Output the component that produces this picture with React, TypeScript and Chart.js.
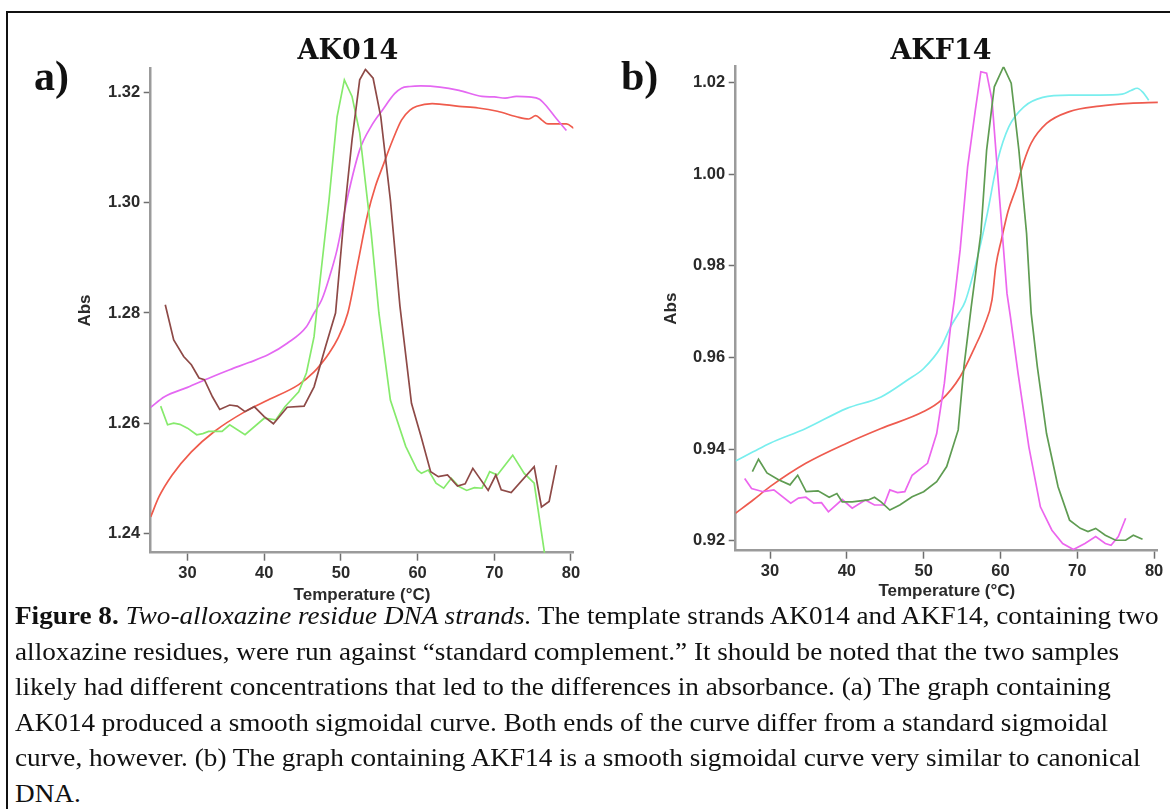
import React, { useEffect, useRef } from "react";
import { Chart, registerables } from "chart.js";

Chart.register(...registerables);

// ---------- tick labels ----------
const tempTicks = [30, 40, 50, 60, 70, 80];
const absTicksA = [1.24, 1.26, 1.28, 1.3, 1.32];
const absTicksB = [0.92, 0.94, 0.96, 0.98, 1.0, 1.02];

// ---------- panel a (AK014) ----------
const aMagentaT = [25.2, 27.0, 30.0, 33.0, 35.5, 38.0, 40.5, 43.0, 45.5, 46.5, 47.5, 48.5, 49.5, 50.9, 52.45, 54.0, 55.45, 57.0, 57.9, 59.0, 60.4, 62.9, 65.4, 68.4, 70.0, 71.4, 72.9, 74.5, 75.9, 77.0, 77.9, 79.4];
const aMagentaAbs = [1.2629, 1.2648, 1.2665, 1.2683, 1.2697, 1.271, 1.2724, 1.2745, 1.2775, 1.28, 1.2824, 1.2865, 1.2915, 1.3012, 1.3096, 1.314, 1.3169, 1.3198, 1.3208, 1.3211, 1.3212, 1.321, 1.3204, 1.3193, 1.3192, 1.319, 1.3193, 1.3192, 1.3188, 1.3172, 1.3156, 1.3131];

const aRedT = [25.2, 26.3, 28.0, 30.5, 33.5, 37.5, 40.5, 44.5, 46.5, 47.5, 48.5, 49.5, 50.9, 52.2, 53.5, 54.5, 55.45, 56.7, 57.9, 59.0, 59.9, 61.9, 65.4, 67.9, 70.4, 72.9, 74.5, 75.4, 76.2, 77.0, 79.4, 80.4];
const aRedAbs = [1.243, 1.2467, 1.2506, 1.2548, 1.2585, 1.2621, 1.2642, 1.267, 1.2693, 1.2709, 1.2728, 1.2751, 1.28, 1.289, 1.298, 1.303, 1.3066, 1.3112, 1.315, 1.3168, 1.3175, 1.318, 1.3175, 1.3172, 1.3166, 1.3156, 1.3152, 1.3158, 1.315, 1.3143, 1.3143, 1.3135];

const aGreenT = [26.5, 27.4, 28.2, 29.0, 30.0, 31.2, 32.0, 32.75, 34.5, 35.5, 37.5, 40.0, 41.5, 42.7, 44.5, 45.5, 46.5, 47.0, 48.45, 49.5, 50.45, 51.45, 52.45, 53.95, 54.95, 56.45, 58.45, 59.95, 60.5, 61.4, 62.4, 63.4, 64.4, 65.4, 66.4, 67.4, 68.4, 69.4, 70.4, 72.4, 73.9, 75.2, 76.7];
const aGreenAbs = [1.2631, 1.2597, 1.26, 1.2598, 1.2591, 1.2579, 1.2581, 1.2585, 1.2585, 1.2597, 1.2579, 1.2609, 1.2606, 1.263, 1.2657, 1.2691, 1.2757, 1.2824, 1.3005, 1.3156, 1.3223, 1.3193, 1.3127, 1.2945, 1.28, 1.2642, 1.2558, 1.2515, 1.2509, 1.2515, 1.2491, 1.2482, 1.25, 1.2485, 1.2478, 1.2483, 1.2482, 1.2512, 1.2506, 1.2542, 1.2509, 1.2491, 1.235];

const aBrownT = [27.1, 28.2, 29.5, 30.5, 31.5, 32.2, 33.25, 34.2, 35.5, 36.5, 37.5, 38.7, 40.0, 41.2, 43.0, 45.2, 46.5, 48.0, 49.3, 50.45, 51.45, 52.45, 53.2, 54.2, 55.2, 56.45, 57.7, 59.2, 60.45, 61.7, 62.7, 63.9, 65.2, 66.2, 67.2, 69.2, 70.2, 70.9, 72.2, 75.2, 76.15, 77.15, 78.1];
const aBrownAbs = [1.2815, 1.2751, 1.2721, 1.2706, 1.2682, 1.2679, 1.2648, 1.2625, 1.2633, 1.2631, 1.2621, 1.263, 1.2612, 1.2599, 1.2629, 1.2631, 1.2666, 1.2739, 1.28, 1.2981, 1.3114, 1.3223, 1.3242, 1.3226, 1.3156, 1.3005, 1.2812, 1.2636, 1.2576, 1.2512, 1.2503, 1.2506, 1.2486, 1.249, 1.2518, 1.2478, 1.2506, 1.2479, 1.2474, 1.2521, 1.2448, 1.2458, 1.2524];

// ---------- panel b (AKF14) ----------
const bCyanT = [25.5, 27.8, 30.0, 34.66, 40.0, 44.45, 47.9, 50.0, 52.3, 53.5, 54.5, 55.4, 56.7, 58.2, 59.65, 61.1, 63.1, 65.5, 68.97, 72.9, 75.85, 77.0, 77.8, 78.5, 79.3];
const bCyanAbs = [0.9374, 0.9394, 0.9413, 0.9445, 0.9489, 0.9514, 0.9551, 0.9576, 0.9624, 0.9667, 0.9695, 0.9722, 0.9798, 0.9907, 1.0031, 1.0104, 1.0148, 1.0168, 1.0173, 1.0173, 1.0175, 1.0183, 1.0188, 1.018, 1.0162];

const bRedT = [25.5, 27.8, 30.0, 34.66, 40.0, 44.45, 50.0, 52.3, 54.75, 56.7, 57.9, 58.9, 59.4, 60.12, 61.0, 62.1, 63.0, 64.0, 66.0, 68.97, 72.9, 76.8, 80.5];
const bRedAbs = [0.926, 0.9289, 0.9318, 0.9369, 0.9413, 0.9445, 0.9482, 0.9507, 0.9558, 0.9624, 0.967, 0.9726, 0.98, 0.9857, 0.992, 0.9973, 1.0025, 1.0068, 1.0111, 1.0137, 1.0149, 1.0155, 1.0157];

const bMagentaT = [26.7, 27.6, 29.1, 30.5, 32.7, 33.7, 34.66, 35.7, 36.7, 37.6, 39.4, 40.7, 42.4, 43.6, 44.85, 45.6, 46.6, 47.55, 48.5, 50.5, 51.7, 52.7, 53.5, 54.0, 54.75, 55.73, 56.73, 57.45, 58.2, 58.9, 59.9, 60.85, 61.3, 62.3, 63.7, 65.2, 66.7, 68.1, 69.5, 71.0, 72.4, 73.65, 74.4, 75.35, 76.3];
const bMagentaAbs = [0.9336, 0.9314, 0.9307, 0.9311, 0.9282, 0.9293, 0.9295, 0.9282, 0.9283, 0.9263, 0.929, 0.9271, 0.9289, 0.9278, 0.9278, 0.9311, 0.9305, 0.9307, 0.9343, 0.9369, 0.9434, 0.9544, 0.9667, 0.9726, 0.9835, 1.0017, 1.014, 1.0224, 1.0221, 1.0162, 0.9944, 0.974, 0.9689, 0.9565, 0.9405, 0.9274, 0.9223, 0.9194, 0.9181, 0.9194, 0.9209, 0.9194, 0.919, 0.9209, 0.9249];

const bGreenT = [27.7, 28.5, 29.6, 31.1, 32.6, 33.6, 34.7, 36.25, 37.7, 38.7, 39.4, 40.7, 42.8, 43.6, 44.45, 45.6, 46.9, 48.5, 50.0, 51.7, 53.0, 54.5, 55.25, 56.2, 57.45, 58.2, 59.2, 60.4, 61.4, 62.4, 63.4, 64.0, 64.8, 66.0, 67.5, 69.0, 70.4, 71.4, 72.4, 73.65, 75.0, 76.3, 77.3, 78.5];
const bGreenAbs = [0.9351, 0.9378, 0.9348, 0.9333, 0.9322, 0.9343, 0.9307, 0.9309, 0.9295, 0.9303, 0.9285, 0.9285, 0.9289, 0.9295, 0.9285, 0.9267, 0.9278, 0.9296, 0.9307, 0.9329, 0.9362, 0.9442, 0.958, 0.9711, 0.9871, 1.0053, 1.0191, 1.0235, 1.0199, 1.0053, 0.9871, 0.9697, 0.958, 0.9434, 0.9318, 0.9245, 0.9227, 0.922, 0.9227, 0.9212, 0.9201, 0.9201, 0.9212, 0.9203];

// ---------- caption ----------
const captionLines = [
  "alloxazine residues, were run against \u201cstandard complement.\u201d It should be noted that the two samples",
  "likely had different concentrations that led to the differences in absorbance. (a) The graph containing",
  "AK014 produced a smooth sigmoidal curve. Both ends of the curve differ from a standard sigmoidal",
  "curve, however. (b) The graph containing AKF14 is a smooth sigmoidal curve very similar to canonical",
  "DNA.",
];

type Series = { t: number[]; a: number[]; color: string; smooth: boolean };

const SANS = "'Liberation Sans', Arial, Helvetica, sans-serif";
const SERIF = "'Liberation Serif', 'Times New Roman', serif";

function buildConfig(
  series: Series[],
  yTicks: number[],
  xMin: number,
  xMax: number,
  yMin: number,
  yMax: number,
  pad: { left: number; top: number; right: number; bottom: number },
  yWidth: number,
  xHeight: number,
  yTitlePad: number
): any {
  const tickFont = { family: SANS, size: 16.5, weight: "bold" as const };
  const titleFont = { family: SANS, size: 17, weight: "bold" as const, lineHeight: 1.2 };
  return {
    type: "line",
    data: {
      datasets: series.map((s) => ({
        data: s.t.map((x, i) => ({ x, y: s.a[i] })),
        borderColor: s.color,
        borderWidth: 1.7,
        pointRadius: 0,
        fill: false,
        tension: 0,
        cubicInterpolationMode: s.smooth ? "monotone" : "default",
      })),
    },
    options: {
      responsive: false,
      animation: false,
      devicePixelRatio: 1,
      events: [],
      layout: { padding: pad },
      plugins: {
        legend: { display: false },
        tooltip: { enabled: false },
        title: { display: false },
      },
      scales: {
        x: {
          type: "linear",
          min: xMin,
          max: xMax,
          afterBuildTicks: (sc: any) => {
            sc.ticks = tempTicks.map((v) => ({ value: v }));
          },
          afterFit: (sc: any) => {
            sc.height = xHeight;
          },
          ticks: {
            color: "#2a2a2a",
            font: tickFont,
            padding: 3,
            maxRotation: 0,
            autoSkip: false,
            callback: (v: any) => String(v),
          },
          grid: {
            display: true,
            drawOnChartArea: false,
            drawTicks: true,
            tickLength: 8,
            tickWidth: 1.5,
            tickColor: "#6f6f6f",
          },
          border: { display: true, color: "#9b9b9b", width: 2.5 },
          title: {
            display: true,
            text: "Temperature (\u00b0C)",
            color: "#2a2a2a",
            font: titleFont,
            padding: { top: 0, bottom: 0 },
          },
        },
        y: {
          type: "linear",
          min: yMin,
          max: yMax,
          afterBuildTicks: (sc: any) => {
            sc.ticks = yTicks.map((v) => ({ value: v }));
          },
          afterFit: (sc: any) => {
            sc.width = yWidth;
          },
          ticks: {
            color: "#2a2a2a",
            font: tickFont,
            padding: 3.5,
            autoSkip: false,
            callback: (v: any) => Number(v).toFixed(2),
          },
          grid: {
            display: true,
            drawOnChartArea: false,
            drawTicks: true,
            tickLength: 7,
            tickWidth: 1.5,
            tickColor: "#6f6f6f",
          },
          border: { display: true, color: "#9b9b9b", width: 2.5 },
          title: {
            display: true,
            text: "Abs",
            color: "#2a2a2a",
            font: titleFont,
            padding: { top: yTitlePad, bottom: 0 },
          },
        },
      },
    },
  };
}

const seriesA: Series[] = [
  { t: aBrownT, a: aBrownAbs, color: "#8e4a47", smooth: false },
  { t: aGreenT, a: aGreenAbs, color: "#86ea6c", smooth: false },
  { t: aMagentaT, a: aMagentaAbs, color: "#e468f2", smooth: true },
  { t: aRedT, a: aRedAbs, color: "#ef5b4c", smooth: true },
];

const seriesB: Series[] = [
  { t: bGreenT, a: bGreenAbs, color: "#5f9c52", smooth: false },
  { t: bMagentaT, a: bMagentaAbs, color: "#ec66ee", smooth: false },
  { t: bCyanT, a: bCyanAbs, color: "#79eeee", smooth: true },
  { t: bRedT, a: bRedAbs, color: "#ee5b4f", smooth: true },
];

export default function App() {
  const refA = useRef<HTMLCanvasElement>(null);
  const refB = useRef<HTMLCanvasElement>(null);

  useEffect(() => {
    const ca = new Chart(
      refA.current as HTMLCanvasElement,
      buildConfig(seriesA, absTicksA, 25.2, 80.3, 1.2365, 1.3244,
        { left: 60, top: 68.3, right: 26.7, bottom: 14.8 }, 90.7, 52.5, 14.8)
    );
    const cb = new Chart(
      refB.current as HTMLCanvasElement,
      buildConfig(seriesB, absTicksB, 25.53, 80.5, 0.91782, 1.0235,
        { left: 40, top: 66.7, right: 12.1, bottom: 18.1 }, 95.7, 51.2, 20.8)
    );
    return () => {
      ca.destroy();
      cb.destroy();
    };
  }, []);

  const titleStyle: React.CSSProperties = {
    position: "absolute",
    width: 300,
    textAlign: "center",
    fontFamily: "'DejaVu Serif', Georgia, serif",
    fontWeight: "bold",
    fontSize: 27,
    lineHeight: "27px",
    color: "#111",
    whiteSpace: "nowrap",
  };
  const panelStyle: React.CSSProperties = {
    position: "absolute",
    fontFamily: SERIF,
    fontWeight: "bold",
    fontSize: 42,
    lineHeight: "42px",
    color: "#111",
    whiteSpace: "nowrap",
  };
  const capLine: React.CSSProperties = {
    position: "absolute",
    left: 15,
    fontFamily: SERIF,
    fontSize: 26,
    lineHeight: "35.6px",
    color: "#111",
    whiteSpace: "nowrap",
    transform: "scaleX(1.046)",
    transformOrigin: "left center",
  };

  return (
    <div
      style={{
        position: "fixed",
        left: 0,
        top: 0,
        width: 1170,
        height: 809,
        background: "#fff",
        overflow: "hidden",
      }}
    >
      <div
        style={{
          position: "absolute",
          left: 6,
          top: 11,
          width: 1200,
          height: 840,
          borderTop: "2px solid #111",
          borderLeft: "2px solid #111",
        }}
      />
      <canvas ref={refA} width={600} height={620} style={{ position: "absolute", left: 0, top: 0 }} />
      <canvas ref={refB} width={570} height={620} style={{ position: "absolute", left: 600, top: 0 }} />

      <div style={{ ...titleStyle, left: 348 - 150, top: 35.5 }}>AK014</div>
      <div style={{ ...titleStyle, left: 941 - 150, top: 35.5 }}>AKF14</div>
      <div style={{ ...panelStyle, left: 34, top: 54.8 }}>a)</div>
      <div style={{ ...panelStyle, left: 621, top: 54.8 }}>b)</div>

      <div style={{ ...capLine, top: 598 }}>
        <b>Figure 8.</b> <i>Two-alloxazine residue DNA strands.</i> The template strands AK014 and AKF14, containing two
      </div>
      {captionLines.map((line, i) => (
        <div key={i} style={{ ...capLine, top: 598 + 35.6 * (i + 1) }}>
          {line}
        </div>
      ))}
    </div>
  );
}
